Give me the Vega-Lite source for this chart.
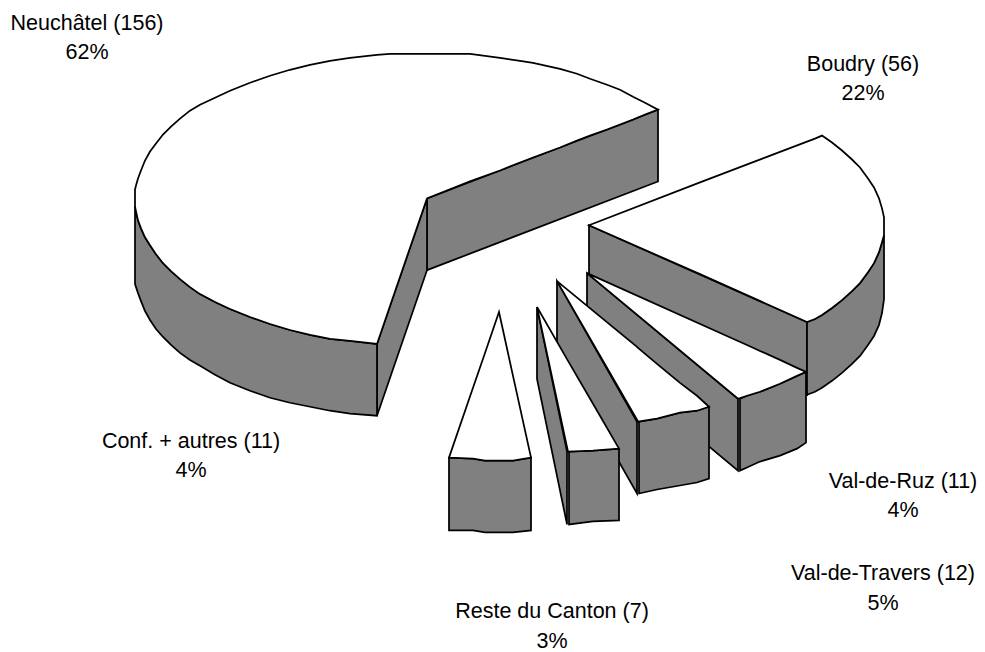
{
"$schema":"https://vega.github.io/schema/vega-lite/v6.json",
"width":985,"height":652,"padding":0,
"autosize":{"type":"fit","contains":"padding"},
"background":"white",
"view":{"stroke":null},
"datasets":{
"faces":[
{"part":"N-w3","face":"side","x":427,"y":199,"y2":271},{"part":"N-w3","face":"side","x":658,"y":110,"y2":182},
{"part":"N-w2","face":"side","x":377,"y":345,"y2":417},{"part":"N-w2","face":"side","x":427,"y":199,"y2":271},
{"part":"N-w1","face":"side","x":135,"y":207,"y2":285},{"part":"N-w1","face":"side","x":136,"y":212,"y2":288},{"part":"N-w1","face":"side","x":138,"y":221,"y2":294},{"part":"N-w1","face":"side","x":141,"y":229,"y2":302},{"part":"N-w1","face":"side","x":145,"y":238,"y2":312},{"part":"N-w1","face":"side","x":150,"y":246,"y2":321},{"part":"N-w1","face":"side","x":156,"y":255,"y2":330},{"part":"N-w1","face":"side","x":163,"y":264,"y2":338},{"part":"N-w1","face":"side","x":171,"y":272,"y2":346},{"part":"N-w1","face":"side","x":180,"y":280,"y2":354},{"part":"N-w1","face":"side","x":190,"y":288,"y2":361},{"part":"N-w1","face":"side","x":200,"y":295,"y2":367},{"part":"N-w1","face":"side","x":215,"y":303,"y2":376},{"part":"N-w1","face":"side","x":230,"y":310,"y2":384},{"part":"N-w1","face":"side","x":250,"y":318,"y2":392},{"part":"N-w1","face":"side","x":270,"y":325,"y2":399},{"part":"N-w1","face":"side","x":290,"y":331,"y2":404},{"part":"N-w1","face":"side","x":310,"y":336,"y2":408},{"part":"N-w1","face":"side","x":330,"y":340,"y2":412},{"part":"N-w1","face":"side","x":350,"y":342,"y2":415},{"part":"N-w1","face":"side","x":377,"y":345,"y2":417},
{"part":"N-top","face":"top","x":135,"y":190,"y2":207},{"part":"N-top","face":"top","x":136,"y":186,"y2":212},{"part":"N-top","face":"top","x":138,"y":179,"y2":221},{"part":"N-top","face":"top","x":141,"y":171,"y2":229},{"part":"N-top","face":"top","x":145,"y":161,"y2":238},{"part":"N-top","face":"top","x":150,"y":152,"y2":246},{"part":"N-top","face":"top","x":156,"y":144,"y2":255},{"part":"N-top","face":"top","x":163,"y":135,"y2":264},{"part":"N-top","face":"top","x":171,"y":127,"y2":272},{"part":"N-top","face":"top","x":180,"y":119,"y2":280},{"part":"N-top","face":"top","x":190,"y":111,"y2":288},{"part":"N-top","face":"top","x":200,"y":105,"y2":295},{"part":"N-top","face":"top","x":215,"y":98,"y2":303},{"part":"N-top","face":"top","x":230,"y":91,"y2":310},{"part":"N-top","face":"top","x":250,"y":83,"y2":318},{"part":"N-top","face":"top","x":270,"y":76,"y2":325},{"part":"N-top","face":"top","x":290,"y":70,"y2":331},{"part":"N-top","face":"top","x":310,"y":65,"y2":336},{"part":"N-top","face":"top","x":330,"y":61,"y2":340},{"part":"N-top","face":"top","x":350,"y":58,"y2":342},{"part":"N-top","face":"top","x":377,"y":55,"y2":345},{"part":"N-top","face":"top","x":390,"y":54,"y2":307},{"part":"N-top","face":"top","x":427,"y":54,"y2":199},{"part":"N-top","face":"top","x":470,"y":54,"y2":182},{"part":"N-top","face":"top","x":500,"y":58,"y2":171},{"part":"N-top","face":"top","x":520,"y":61,"y2":163},{"part":"N-top","face":"top","x":533,"y":63,"y2":158},{"part":"N-top","face":"top","x":560,"y":69,"y2":148},{"part":"N-top","face":"top","x":577,"y":74,"y2":141},{"part":"N-top","face":"top","x":590,"y":79,"y2":136},{"part":"N-top","face":"top","x":607,"y":85,"y2":130},{"part":"N-top","face":"top","x":620,"y":90,"y2":125},{"part":"N-top","face":"top","x":633,"y":97,"y2":120},{"part":"N-top","face":"top","x":645,"y":103,"y2":115},{"part":"N-top","face":"top","x":658,"y":110,"y2":110},
{"part":"B-w1","face":"side","x":589,"y":226,"y2":298},{"part":"B-w1","face":"side","x":807,"y":323,"y2":396},
{"part":"B-w2","face":"side","x":807,"y":323,"y2":396},{"part":"B-w2","face":"side","x":815,"y":320,"y2":393},{"part":"B-w2","face":"side","x":822,"y":316,"y2":389},{"part":"B-w2","face":"side","x":832,"y":309,"y2":382},{"part":"B-w2","face":"side","x":842,"y":301,"y2":374},{"part":"B-w2","face":"side","x":852,"y":292,"y2":365},{"part":"B-w2","face":"side","x":860,"y":284,"y2":357},{"part":"B-w2","face":"side","x":868,"y":273,"y2":346},{"part":"B-w2","face":"side","x":874,"y":264,"y2":337},{"part":"B-w2","face":"side","x":879,"y":253,"y2":326},{"part":"B-w2","face":"side","x":882,"y":243,"y2":314},{"part":"B-w2","face":"side","x":884,"y":236,"y2":300},
{"part":"B-top","face":"top","x":589,"y":226,"y2":226},{"part":"B-top","face":"top","x":700,"y":183,"y2":275},{"part":"B-top","face":"top","x":807,"y":142,"y2":323},{"part":"B-top","face":"top","x":815,"y":139,"y2":320},{"part":"B-top","face":"top","x":822,"y":136,"y2":316},{"part":"B-top","face":"top","x":832,"y":143,"y2":309},{"part":"B-top","face":"top","x":842,"y":151,"y2":301},{"part":"B-top","face":"top","x":852,"y":160,"y2":292},{"part":"B-top","face":"top","x":860,"y":168,"y2":284},{"part":"B-top","face":"top","x":868,"y":179,"y2":273},{"part":"B-top","face":"top","x":874,"y":188,"y2":264},{"part":"B-top","face":"top","x":879,"y":199,"y2":253},{"part":"B-top","face":"top","x":882,"y":209,"y2":243},{"part":"B-top","face":"top","x":884,"y":218,"y2":236},
{"part":"R-w1","face":"side","x":587,"y":274,"y2":346},{"part":"R-w1","face":"side","x":738,"y":400,"y2":472},
{"part":"R-w2","face":"side","x":740,"y":400,"y2":472},{"part":"R-w2","face":"side","x":747,"y":397,"y2":469},{"part":"R-w2","face":"side","x":760,"y":393,"y2":463},{"part":"R-w2","face":"side","x":780,"y":385,"y2":457},{"part":"R-w2","face":"side","x":797,"y":377,"y2":450},{"part":"R-w2","face":"side","x":806,"y":373,"y2":444},
{"part":"R-top","face":"top","x":587,"y":274,"y2":274},{"part":"R-top","face":"top","x":738,"y":342,"y2":400},{"part":"R-top","face":"top","x":747,"y":346,"y2":397},{"part":"R-top","face":"top","x":760,"y":352,"y2":393},{"part":"R-top","face":"top","x":780,"y":361,"y2":385},{"part":"R-top","face":"top","x":797,"y":369,"y2":377},{"part":"R-top","face":"top","x":806,"y":373,"y2":373},
{"part":"T-w1","face":"side","x":557,"y":282,"y2":354},{"part":"T-w1","face":"side","x":637,"y":423,"y2":495},
{"part":"T-w2","face":"side","x":639,"y":423,"y2":495},{"part":"T-w2","face":"side","x":657,"y":420,"y2":491},{"part":"T-w2","face":"side","x":680,"y":414,"y2":487},{"part":"T-w2","face":"side","x":697,"y":412,"y2":484},{"part":"T-w2","face":"side","x":709,"y":408,"y2":480},
{"part":"T-top","face":"top","x":557,"y":282,"y2":282},{"part":"T-top","face":"top","x":637,"y":348,"y2":421},{"part":"T-top","face":"top","x":638,"y":349,"y2":423},{"part":"T-top","face":"top","x":657,"y":365,"y2":420},{"part":"T-top","face":"top","x":680,"y":384,"y2":414},{"part":"T-top","face":"top","x":697,"y":397,"y2":412},{"part":"T-top","face":"top","x":709,"y":408,"y2":408},
{"part":"C-w1","face":"side","x":537,"y":308,"y2":380},{"part":"C-w1","face":"side","x":567,"y":453,"y2":526},
{"part":"C-w2","face":"side","x":569,"y":453,"y2":526},{"part":"C-w2","face":"side","x":593,"y":452,"y2":523},{"part":"C-w2","face":"side","x":619,"y":450,"y2":522},
{"part":"C-top","face":"top","x":537,"y":308,"y2":308},{"part":"C-top","face":"top","x":568,"y":362,"y2":453},{"part":"C-top","face":"top","x":593,"y":405,"y2":452},{"part":"C-top","face":"top","x":619,"y":450,"y2":450},
{"part":"D-w","face":"side","x":449,"y":459,"y2":532},{"part":"D-w","face":"side","x":473,"y":460,"y2":532},{"part":"D-w","face":"side","x":485,"y":462,"y2":534},{"part":"D-w","face":"side","x":513,"y":462,"y2":534},{"part":"D-w","face":"side","x":531,"y":459,"y2":532},
{"part":"D-top","face":"top","x":449,"y":459,"y2":459},{"part":"D-top","face":"top","x":473,"y":389,"y2":460},{"part":"D-top","face":"top","x":485,"y":354,"y2":462},{"part":"D-top","face":"top","x":499,"y":313,"y2":462},{"part":"D-top","face":"top","x":513,"y":377,"y2":462},{"part":"D-top","face":"top","x":531,"y":459,"y2":459}
],
"labels":[
{"label":"Neuchâtel (156)\n62%","x":87,"y":30},
{"label":"Boudry (56)\n22%","x":863,"y":71},
{"label":"Conf. + autres (11)\n4%","x":191,"y":449},
{"label":"Val-de-Ruz (11)\n4%","x":903,"y":489},
{"label":"Val-de-Travers (12)\n5%","x":883,"y":582},
{"label":"Reste du Canton (7)\n3%","x":552,"y":620}
]
},
"layer":[
{"data":{"name":"faces"},
"mark":{"type":"area","stroke":"black","strokeWidth":1.75,"opacity":1,"interpolate":"linear"},
"encoding":{
"x":{"field":"x","type":"quantitative","scale":{"domain":[0,985],"nice":false,"zero":false},"axis":null},
"y":{"field":"y","type":"quantitative","scale":{"domain":[652,0],"nice":false,"zero":false},"axis":null,"stack":null},
"y2":{"field":"y2"},
"detail":{"field":"part"},
"color":{"field":"face","type":"nominal","scale":{"domain":["top","side"],"range":["#ffffff","#808080"]},"legend":null}
}},
{"data":{"name":"labels"},
"mark":{"type":"text","font":"Liberation Sans","fontSize":21.5,"color":"#000000","align":"center","baseline":"alphabetic","lineBreak":"\n","lineHeight":29.5},
"encoding":{
"x":{"field":"x","type":"quantitative","scale":{"domain":[0,985],"nice":false,"zero":false},"axis":null},
"y":{"field":"y","type":"quantitative","scale":{"domain":[652,0],"nice":false,"zero":false},"axis":null},
"text":{"field":"label"}
}}
]
}
